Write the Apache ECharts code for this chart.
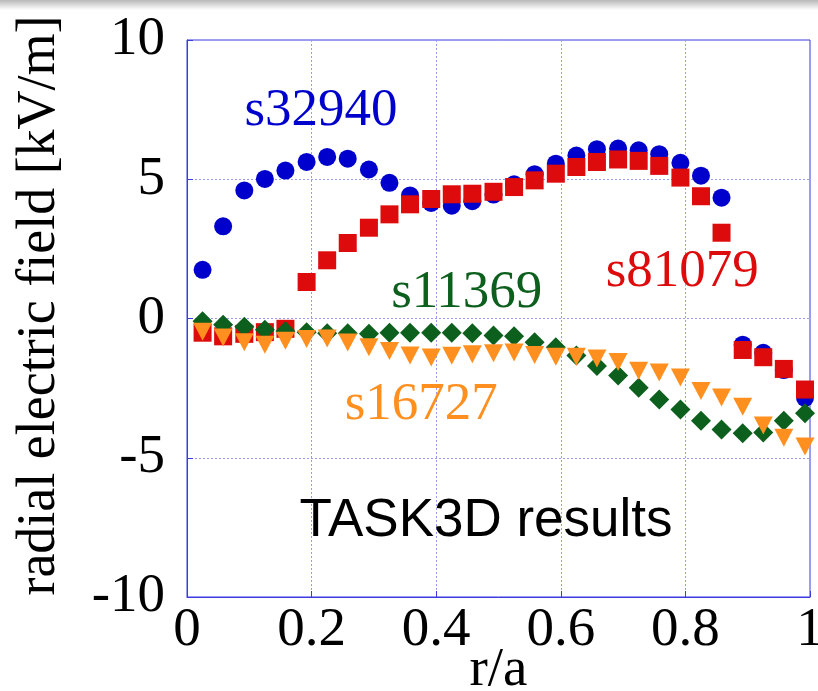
<!DOCTYPE html>
<html>
<head>
<meta charset="utf-8">
<script src="https://cdn.jsdelivr.net/npm/echarts@6/dist/echarts.min.js"></script>
<style>
  html, body { margin: 0; padding: 0; background: #fff; }
  #chart { width: 818px; height: 691px; }
</style>
</head>
<body>
<div id="chart"></div>
<script>
// Normalized minor radius r/a for each profile point
const rOverA = [0.025, 0.058, 0.092, 0.125, 0.158, 0.192, 0.225, 0.258, 0.292, 0.325,
                0.358, 0.392, 0.425, 0.458, 0.492, 0.525, 0.558, 0.592, 0.625, 0.658,
                0.692, 0.725, 0.758, 0.792, 0.825, 0.858, 0.892, 0.925, 0.958, 0.992];

// Radial electric field [kV/m] per shot
const s32940 = [1.75, 3.31, 4.60, 5.01, 5.31, 5.62, 5.80, 5.74, 5.35, 4.87,
                4.42, 4.15, 4.05, 4.21, 4.45, 4.82, 5.18, 5.56, 5.85, 6.08,
                6.10, 6.04, 5.90, 5.59, 5.13, 4.34, -0.94, -1.23, -1.85, -2.85];
const s81079 = [-0.51, -0.64, -0.55, -0.49, -0.37, 1.31, 2.09, 2.71, 3.26, 3.74,
                4.10, 4.29, 4.46, 4.48, 4.55, 4.72, 4.96, 5.20, 5.44, 5.62,
                5.71, 5.66, 5.48, 5.06, 4.39, 3.08, -1.13, -1.39, -1.81, -2.55];
const s11369 = [-0.10, -0.22, -0.30, -0.40, -0.46, -0.49, -0.53, -0.53, -0.55, -0.51,
                -0.51, -0.51, -0.51, -0.53, -0.61, -0.64, -0.85, -1.03, -1.33, -1.71,
                -2.05, -2.49, -2.91, -3.27, -3.67, -3.99, -4.12, -4.09, -3.67, -3.40];
const s16727 = [-0.48, -0.68, -0.85, -0.94, -0.80, -0.74, -0.72, -0.86, -1.03, -1.17,
                -1.33, -1.40, -1.34, -1.28, -1.25, -1.22, -1.31, -1.37, -1.37, -1.44,
                -1.56, -1.88, -1.94, -2.12, -2.60, -2.84, -3.17, -3.84, -4.28, -4.60];

// Axis ticks
const xTicks = [0, 0.2, 0.4, 0.6, 0.8, 1];
const yTicks = [-10, -5, 0, 5, 10];

// Text annotations placed in data coordinates (anchor = centre x, baseline y)
const annotations = [
  { text: 's32940', x: 0.215, y: 6.83, color: '#0000cc', font: 'serif' },
  { text: 's81079', x: 0.795, y: 1.04, color: '#dd0b0b', font: 'serif' },
  { text: 's11369', x: 0.449, y: 0.29, color: '#0c5f1c', font: 'serif' },
  { text: 's16727', x: 0.376, y: -3.70, color: '#ff8f1f', font: 'serif' },
  { text: 'TASK3D results', x: 0.480, y: -7.90, color: '#000000', font: 'sans' }
];

const pairs = ys => rOverA.map((x, i) => [x, ys[i]]);

const serifFont = '"Liberation Serif", "DejaVu Serif", serif';
const sansFont = '"Liberation Sans", Arial, sans-serif';
const frameBlue = '#3b3be0';
const gridBlue = '#9a9af2';

const chart = echarts.init(document.getElementById('chart'), null, { renderer: 'canvas' });

const option = {
  animation: false,
  backgroundColor: '#ffffff',
  grid: {
    left: 187, right: 8, top: 40, bottom: 94,
    outerBoundsMode: 'none', containLabel: false,
    show: true, borderColor: frameBlue, borderWidth: 1, backgroundColor: 'transparent'
  },
  xAxis: {
    type: 'value',
    min: xTicks[0], max: xTicks[xTicks.length - 1],
    interval: xTicks[1] - xTicks[0],
    name: 'r/a', nameLocation: 'middle', nameGap: 46, nameMoveOverlap: false,
    nameTextStyle: { fontFamily: serifFont, fontSize: 55, color: '#000' },
    axisLine: { show: true, onZero: false, lineStyle: { color: frameBlue, width: 1 } },
    axisTick: { show: true, inside: true, length: 6, lineStyle: { color: frameBlue } },
    axisLabel: { fontFamily: serifFont, fontSize: 55, color: '#000', margin: 6 },
    splitLine: { show: true, lineStyle: { color: gridBlue, type: [2, 2], width: 1 } }
  },
  yAxis: {
    type: 'value',
    min: yTicks[0], max: yTicks[yTicks.length - 1],
    interval: yTicks[1] - yTicks[0],
    name: 'radial electric field [kV/m]', nameLocation: 'middle', nameGap: 120, nameMoveOverlap: false,
    nameTextStyle: { fontFamily: serifFont, fontSize: 54, color: '#000', padding: [0, 0, 0, 26] },
    axisLine: { show: true, onZero: false, lineStyle: { color: frameBlue, width: 1 } },
    axisTick: { show: true, inside: true, length: 6, lineStyle: { color: frameBlue } },
    axisLabel: { fontFamily: serifFont, fontSize: 55, color: '#000', margin: 22 },
    splitLine: { show: true, lineStyle: { color: gridBlue, type: [2, 2], width: 1 } }
  },
  series: [
    { name: 's32940', type: 'scatter', data: pairs(s32940), symbol: 'circle', symbolSize: 18,
      itemStyle: { color: '#0000cc', opacity: 1 }, z: 2 },
    { name: 's81079', type: 'scatter', data: pairs(s81079), symbol: 'rect', symbolSize: 18,
      itemStyle: { color: '#dd0b0b', opacity: 1 }, z: 3 },
    { name: 's11369', type: 'scatter', data: pairs(s11369), symbol: 'diamond', symbolSize: 20,
      itemStyle: { color: '#0c5f1c', opacity: 1 }, z: 4 },
    { name: 's16727', type: 'scatter', data: pairs(s16727), symbol: 'triangle', symbolRotate: 180,
      symbolSize: [19, 18], itemStyle: { color: '#ff8f1f', opacity: 1 }, z: 5 }
  ]
};

chart.setOption(option);

// Place the annotation texts using the chart's own coordinate conversion
const graphics = annotations.map(a => {
  const p = chart.convertToPixel({ gridIndex: 0 }, [a.x, a.y]);
  const size = 53;
  return {
    type: 'text',
    x: p[0], y: p[1] - size * 0.32,
    z: 10,
    style: {
      text: a.text,
      fill: a.color,
      font: size + 'px ' + (a.font === 'serif' ? serifFont : sansFont),
      align: 'center',
      verticalAlign: 'middle'
    }
  };
});

// Thin grey shade along the top edge
graphics.push({
  type: 'rect', z: 0,
  shape: { x: 0, y: 0, width: 818, height: 10 },
  style: {
    fill: new echarts.graphic.LinearGradient(0, 0, 0, 1, [
      { offset: 0, color: '#b8b8b8' }, { offset: 1, color: '#ffffff' }
    ])
  }
});

chart.setOption({ graphic: graphics });
</script>
</body>
</html>
